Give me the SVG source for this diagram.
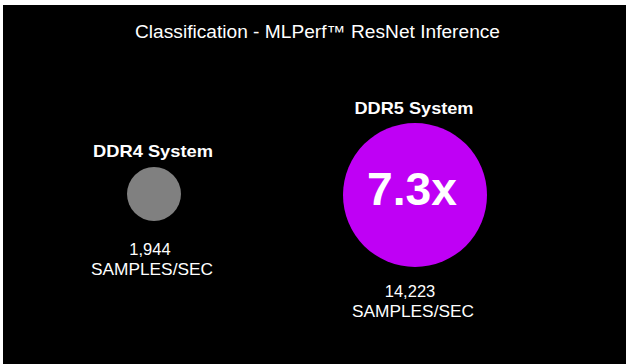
<svg xmlns="http://www.w3.org/2000/svg" width="626" height="364" viewBox="0 0 626 364">
<style>
.t{font-family:"Liberation Sans",Arial,sans-serif;fill:#fff;text-anchor:middle}
.h{font-weight:bold;font-size:17px}
.n{font-size:16.5px}
</style>
<rect x="0" y="0" width="626" height="364" fill="#fff"/>
<rect x="3" y="5" width="623" height="359" fill="#000"/>
<text class="t" x="317.5" y="37.5" font-size="17.5" textLength="365" lengthAdjust="spacingAndGlyphs">Classification - MLPerf™ ResNet Inference</text>
<g id="ddr4">
<text class="t h" x="153" y="157" textLength="120" lengthAdjust="spacingAndGlyphs">DDR4 System</text>
<circle cx="154" cy="194" r="27" fill="#808080"/>
<text class="t n" x="150" y="255">1,944</text>
<text class="t n" x="152" y="275" textLength="122" lengthAdjust="spacingAndGlyphs">SAMPLES/SEC</text>
</g>
<g id="ddr5">
<text class="t h" x="414" y="114" textLength="119" lengthAdjust="spacingAndGlyphs">DDR5 System</text>
<circle cx="415" cy="195" r="72" fill="#bf00f5"/>
<text class="t" x="412" y="205" font-size="46" font-weight="bold" textLength="90" lengthAdjust="spacingAndGlyphs">7.3x</text>
<text class="t n" x="410" y="297">14,223</text>
<text class="t n" x="413" y="317" textLength="122" lengthAdjust="spacingAndGlyphs">SAMPLES/SEC</text>
</g>
<g id="connectors"/>
</svg>
